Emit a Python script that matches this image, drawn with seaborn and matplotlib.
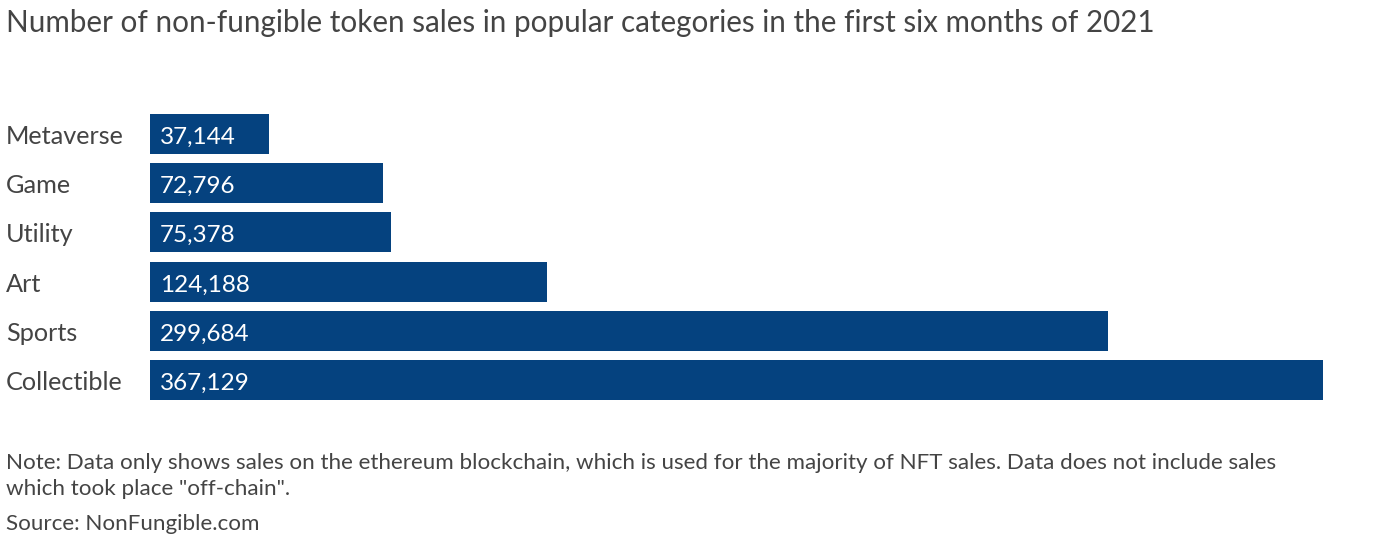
import matplotlib
matplotlib.use("Agg")
import matplotlib.pyplot as plt
import matplotlib.transforms as mtransforms
import seaborn as sns
import pandas as pd

# Data
categories = ["Metaverse", "Game", "Utility", "Art", "Sports", "Collectible"]
sales = [37144, 72796, 75378, 124188, 299684, 367129]

title = "Number of non-fungible token sales in popular categories in the first six months of 2021"
note = ('Note: Data only shows sales on the ethereum blockchain, which is used for the majority of NFT sales. '
        'Data does not include sales\nwhich took place "off-chain".')
source = "Source: NonFungible.com"

sns.set_style("white")
plt.rcParams['font.family'] = ['Lato', 'DejaVu Sans']

BAR = "#05427f"
TXT = "#444444"

df = pd.DataFrame({"category": categories, "sales": sales})

fig = plt.figure(figsize=(13.8, 5.56), dpi=100)
ax = fig.add_axes([0.1087, 0.2716, 0.85, 0.5324])
sns.barplot(data=df, x="sales", y="category", color=BAR, width=0.81,
            saturation=1, linewidth=0, ax=ax)

ax.set_xlim(0, max(sales))
ax.set_ylim(len(categories) - 0.5, -0.5)
ax.set_xlabel("")
ax.set_ylabel("")
ax.set_xticks([])
ax.set_yticks([])
sns.despine(ax=ax, left=True, bottom=True)

# category names flush with the left edge of the figure
trans = mtransforms.blended_transform_factory(fig.transFigure, ax.transData)
for i, c in enumerate(categories):
    ax.annotate(c, xy=(0.0043, i), xycoords=trans, xytext=(0, -7.2),
                textcoords="offset points", ha="left", va="baseline",
                fontsize=18.2, color=TXT, annotation_clip=False)

for i, v in enumerate(sales):
    ax.annotate(f"{v:,}", xy=(0, i), xytext=(7.3, -7.2), textcoords="offset points",
                ha="left", va="baseline", color="white", fontsize=17.5)

fig.text(0.0043, 0.958, title, ha="left", va="center", fontsize=21.3, color=TXT)
fig.text(0.0043, 0.144, note, ha="left", va="center", fontsize=16.1, color=TXT,
         linespacing=1.4)
fig.text(0.0043, 0.058, source, ha="left", va="center", fontsize=16.1, color=TXT)

fig.savefig("out.png", dpi=100)
